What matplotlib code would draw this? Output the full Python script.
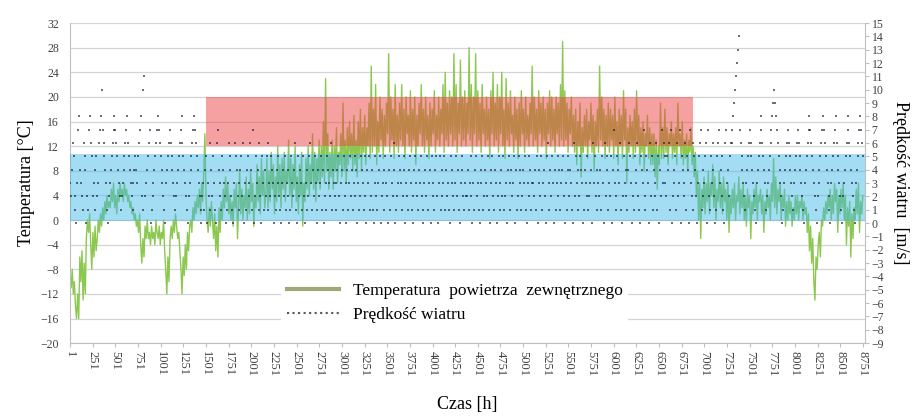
import numpy as np
import matplotlib
matplotlib.use("Agg")
import matplotlib.pyplot as plt
from matplotlib.lines import Line2D
from matplotlib.patches import Rectangle

plt.rcParams['font.family'] = ['Liberation Serif', 'DejaVu Serif']

# temperatura powietrza co 12 h (odczyt z wykresu), miesiącami
temp_jan = [-9, -11, -8, -12, -10, -14, -16, -12, -16, -6, -10, -5, -13, -7, -12,
            -3, 0, -2, 1, -4, -8, -2, -6, -1, -5, -3, 0, -2, 1, -1, 2, 0, 3, 1, 4, 2, 3,
            2, 5, 3, 6, 2, 4, 1, 5, 3, 6, 4, 5, 3, 6, 4, 5, 3, 4, 2, 3, 1, 2, 0, 1, -1]
temp_feb = [0, -2, 1, -4, -7, -3, -6, -1, -3, 0, -3, -2, -4, -1, -3, -2, -4, 0, -2,
            -3, -1, -4, -2, -3, 0, -5, -8, -12, -6, -10, -3, -1, -3, 0, -2, 1, -1, -3,
            -2, -5, -8, -12, -6, -9, -4, -8, -2, -5, -1, 0, -2, 2, 0, 3, 1, 4]
temp_mar = [2, 5, 1, 6, 3, 8, 14, 4, 0, -2, 2, -1, 3, 0, -3, 1, -5, -1, -6, 2, -2,
            3, 0, 5, 2, 7, 3, 6, 1, 4, 0, 3, -1, 5, 2, 6, -3, 2, 8, 1, 5, 0, 4,
            2, 7, 0, 5, 1, 8, 3, 6, -1, 4, 2, 9, 3, 7, 1, 10, 4, 8, 2]
temp_apr = [4, 10, 2, 8, 3, 11, 5, 9, 1, 7, 3, 12, 4, 9, 2, 10, 5, 11, 3, 8,
            6, 13, 4, 10, 2, 9, 5, 12, 3, 7, 1, 9, 4, 11, -1, 6, 3, 10, 5, 12,
            4, 9, 6, 14, 5, 11, 3, 10, 6, 13, 5, 12, 7, 16, 6, 23, 8, 14, 5, 11]
temp_may = [7, 13, 5, 12, 8, 15, 6, 11, 9, 14, 7, 19, 8, 13, 6, 15, 9, 16, 10, 14,
            8, 17, 9, 13, 7, 16, 10, 18, 8, 15, 11, 17, 9, 15, 12, 19, 10, 25, 11, 18,
            12, 22, 9, 16, 11, 20, 13, 18, 10, 17, 12, 19, 14, 27, 11, 20, 13, 18, 10, 22,
            12, 17]
temp_jun = [11, 19, 13, 22, 12, 18, 10, 20, 14, 17, 12, 21, 11, 18, 13, 20, 9, 17, 12, 19,
            14, 22, 12, 18, 11, 20, 13, 17, 10, 19, 12, 18, 14, 21, 11, 17, 13, 20, 12, 18,
            14, 22, 11, 24, 13, 19, 12, 21, 14, 20, 12, 27, 13, 22, 11, 19, 14, 26, 12, 20]
temp_jul = [13, 21, 12, 19, 14, 28, 13, 22, 11, 20, 14, 27, 12, 21, 13, 19, 11, 22, 14, 18,
            12, 20, 13, 18, 10, 21, 14, 24, 12, 19, 13, 22, 11, 20, 14, 24, 12, 18, 10, 23,
            13, 19, 12, 21, 14, 17, 11, 20, 13, 18, 10, 19, 12, 21, 14, 18, 11, 20, 13, 17,
            12, 19]
temp_aug = [14, 25, 12, 20, 13, 18, 11, 21, 14, 19, 12, 20, 13, 18, 10, 19, 14, 21, 12, 20,
            13, 18, 11, 20, 14, 19, 12, 22, 13, 29, 12, 21, 13, 19, 11, 18, 14, 20, 12, 17,
            11, 18, 9, 16, 12, 19, 7, 15, 11, 17, 12, 18, 10, 16, 13, 19, 11, 17, 8, 16,
            12, 18]
temp_sep = [11, 25, 13, 20, 12, 18, 10, 17, 12, 19, 11, 18, 13, 17, 10, 20, 12, 16, 9, 18,
            12, 17, 10, 21, 13, 18, 6, 15, 11, 17, 12, 16, 10, 18, 11, 21, 12, 17, 9, 15,
            11, 16, 8, 14, 12, 17, 10, 15, 9, 14, 9, 14, 7, 13, 5, 12, 9, 19, 10, 15]
temp_oct = [10, 18, 11, 15, 9, 14, 12, 16, 10, 14, 11, 15, 9, 19, 12, 14, 10, 16, 9, 13,
            10, 14, 8, 13, 11, 15, 9, 12, 7, 11, 4, 8, 0, 6, -3, 5, 2, 7, 1, 6,
            3, 8, 1, 6, 4, 9, 2, 7, 0, 5, 3, 8, 2, 6, 1, 7, 3, 5, 0, 6, -2, 4]
temp_nov = [1, 5, 2, 6, 0, 4, 3, 7, 1, 5, 2, 6, 0, 4, -1, 5, 2, 4, -3, 3,
            1, 5, 2, 6, 0, 4, 3, 5, 1, 4, -2, 3, 1, 5, 2, 4, 0, 6, 3, 10,
            2, 7, 1, 5, 3, 6, 0, 4, 2, 5, -1, 3, 0, 4, 1, 3, -1, 2, 0, 4]
temp_dec = [1, 4, 0, 3, 2, 4, 0, 3, 1, 2, -2, 1, -5, -1, -7, -3, -10, -13, -6, -8,
            -4, -2, -6, 0, -1, 2, 0, 3, 1, 4, 2, 5, 0, 4, 1, 6, 3, 5, -2, 4,
            1, 5, 2, 6, 0, 4, -4, 2, -1, 3, -6, 1, -3, 2, 0, 5, 1, 6, -2, 3, 1, 4]

temp = (temp_jan + temp_feb + temp_mar + temp_apr + temp_may + temp_jun +
        temp_jul + temp_aug + temp_sep + temp_oct + temp_nov + temp_dec)
temp_hours = 1 + 12 * np.arange(len(temp))

# prędkość wiatru co 10 h [m/s], jeden znak = jedna wartość (a..e = 10..14)
wind_months = [
    "3246521037" "8432165402" "1786523415" "23678a7654" "3102345678" "7654321234" "5678654321" "345",
    "4356782a1b" "2345670123" "4567876543" "2103456765" "4321234567" "8654321023" "4567876543" "210",
    "2314503216" "4253106743" "2154320136" "5421036542" "1345260314" "5236417025" "3416205314" "256",
    "1325430214" "5321034251" "3240153246" "1305243152" "0341256314" "2530142351" "4023154326" "143",
    "2314520341" "5230413524" "1352403125" "4315204351" "2410352134" "5023415320" "4153246012" "354",
    "3125403214" "5312045321" "4352103425" "1340523145" "2035142351" "4231054321" "3524103452" "132",
    "2413520314" "5231043512" "4325104352" "1430251342" "5123045314" "2350412534" "1243510352" "413",
    "3241503425" "1342056314" "2530413524" "1345203154" "2431062534" "1254301432" "5123406352" "143",
    "2415306254" "1325047321" "5436102534" "2146530215" "4362105437" "2154306251" "4326150427" "365",
    "3254617023" "4516237054" "3261540732" "6154203567" "1243560721" "5346201567" "3425106734" "256",
    "6789abcde7" "6543213456" "7654321034" "5678654312" "3456789a98" "7654320134" "5676543213" "456",
    "7654321034" "5678765432" "1023456787" "6543210345" "6786543210" "2345678654" "3210345678" "765",
]
wind = [int(c, 16) for c in "".join(wind_months)]
wind_hours = 1 + 10 * np.arange(len(wind))

x_ticks = list(range(1, 8752, 250))
temp_ticks = list(range(-20, 33, 4))
wind_ticks = list(range(-9, 16))

# strefy: czerwona (godziny od-do, temperatura od-do), niebieska (temperatura od-do)
red_hours = (1500, 6880)
red_temp = (12, 20)
blue_temp = (-0.2, 10.7)

fig = plt.figure(figsize=(9.24, 4.19), dpi=100)
ax = fig.add_axes([0.0758, 0.181, 0.860, 0.764])

ax.plot(temp_hours, temp, color='#8cc850', lw=1.0, zorder=2)
ax.add_patch(Rectangle((red_hours[0], red_temp[0]), red_hours[1] - red_hours[0],
                       red_temp[1] - red_temp[0], facecolor='#ee4444', alpha=0.5,
                       lw=0, zorder=3))
ax.axhspan(blue_temp[0], blue_temp[1], facecolor='#40b8ea', alpha=0.48, lw=0, zorder=3)

ax.set_xlim(1, 8770)
ax.set_ylim(-20, 32)
ax.set_yticks(temp_ticks)
ax.set_xticks(x_ticks)
ax.set_xticklabels([str(t) for t in x_ticks], rotation=-90, fontsize=9, color='#404040')
ax.tick_params(axis='y', labelsize=8.5, colors='#404040', length=0, pad=8)
ax.tick_params(axis='x', length=3, color='#bfbfbf', pad=3)
ax.grid(axis='y', color='#d4d4d4', lw=0.9)
ax.set_axisbelow(True)
for s in ['top', 'right']:
    ax.spines[s].set_visible(False)
for s in ['left', 'bottom']:
    ax.spines[s].set_color('#bfbfbf')

ax.set_xlabel('Czas [h]', fontsize=13, labelpad=14)
ax.set_ylabel('Temperatura [°C]', fontsize=13, labelpad=4)

ax2 = ax.twinx()
ax2.plot(wind_hours, wind, ls='none', marker='_', ms=2, mew=1.2,
         color='#1a1a2e', alpha=0.75)
ax2.set_ylim(-9, 15)
ax2.set_yticks(wind_ticks)
ax2.tick_params(axis='y', labelsize=8.5, colors='#404040', length=3, pad=2)
ax2.tick_params(axis='y', color='#bfbfbf')
for s in ['top', 'left', 'bottom']:
    ax2.spines[s].set_visible(False)
ax2.spines['right'].set_color('#bfbfbf')
ax2.set_ylabel('Prędkość wiatru  [m/s]', fontsize=13, rotation=-90, labelpad=18)

handles = [Line2D([], [], color='#a0a878', lw=3),
           Line2D([], [], color='#555555', lw=1.5, ls=':')]
leg = ax2.legend(handles, ['Temperatura  powietrza  zewnętrznego', 'Prędkość wiatru'],
                 loc='lower left', bbox_to_anchor=(0.255, 0.02), fontsize=12.5,
                 frameon=True, facecolor='white', edgecolor='none', framealpha=1,
                 handlelength=3, handletextpad=0.8, labelspacing=0.45,
                 borderpad=0.3)

fig.savefig('out.png', dpi=100)
